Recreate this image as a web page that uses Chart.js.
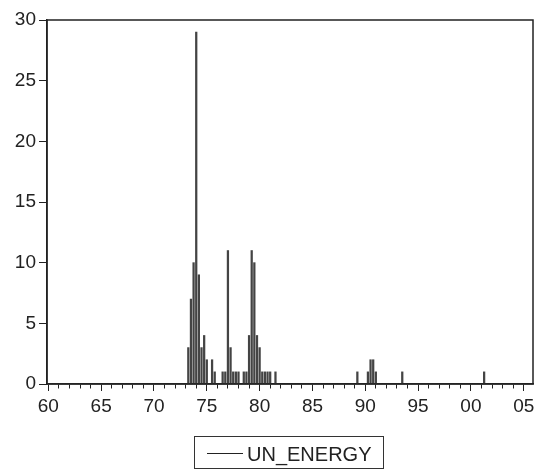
<!DOCTYPE html>
<html>
<head>
<meta charset="utf-8">
<title>UN_ENERGY</title>
<script src="https://cdn.jsdelivr.net/npm/chart.js@4"></script>
<style>
  html, body { margin: 0; padding: 0; background: #fff; }
  #wrap { position: relative; width: 539px; height: 470px; }
  #legend {
    position: absolute; left: 194px; top: 436px; width: 190px; height: 33px;
    box-sizing: border-box; border: 1px solid #333;
    font-family: "Liberation Sans", Arial, sans-serif; font-size: 20px; line-height: 20px; color: #222;
  }
  #legend .line { position: absolute; left: 12px; top: 16px; width: 36px; height: 1px; background: #222; }
  #legend .txt { position: absolute; left: 52px; top: 7px; white-space: nowrap; }
</style>
</head>
<body>
<div id="wrap">
  <canvas id="chart" width="539" height="470"></canvas>
  <div id="legend"><span class="line"></span><span class="txt" id="legendText"></span></div>
</div>
<script>
const seriesName = "UN_ENERGY";

const years = [
  1960, 1961, 1962, 1963, 1964, 1965, 1966, 1967, 1968, 1969,
  1970, 1971, 1972, 1973, 1974, 1975, 1976, 1977, 1978, 1979,
  1980, 1981, 1982, 1983, 1984, 1985, 1986, 1987, 1988, 1989,
  1990, 1991, 1992, 1993, 1994, 1995, 1996, 1997, 1998, 1999,
  2000, 2001, 2002, 2003, 2004, 2005
];

// quarterly values, one year (Q1..Q4) per group
const unEnergy = [
  0,0,0,0,  0,0,0,0,  0,0,0,0,  0,0,0,0,  0,0,0,0,   // 1960-64
  0,0,0,0,  0,0,0,0,  0,0,0,0,  0,0,0,0,  0,0,0,0,   // 1965-69
  0,0,0,0,  0,0,0,0,  0,0,0,0,  0,3,7,10, 29,9,3,4,  // 1970-74
  2,0,2,1,  0,0,1,1,  11,3,1,1, 1,0,1,1,  4,11,10,4, // 1975-79
  3,1,1,1,  1,0,1,0,  0,0,0,0,  0,0,0,0,  0,0,0,0,   // 1980-84
  0,0,0,0,  0,0,0,0,  0,0,0,0,  0,0,0,0,  0,1,0,0,   // 1985-89
  0,1,2,2,  1,0,0,0,  0,0,0,0,  0,0,1,0,  0,0,0,0,   // 1990-94
  0,0,0,0,  0,0,0,0,  0,0,0,0,  0,0,0,0,  0,0,0,0,   // 1995-99
  0,0,0,0,  0,1,0,0,  0,0,0,0,  0,0,0,0,  0,0,0,0,   // 2000-04
  0,0,0,0                                            // 2005
];

const xTickLabels = ["60", "65", "70", "75", "80", "85", "90", "95", "00", "05"];
const yTicks = [0, 5, 10, 15, 20, 25, 30];

const quarters = [];
years.forEach(y => { for (let q = 1; q <= 4; q++) quarters.push(y + "Q" + q); });

const font = { family: "'Liberation Sans', Arial, sans-serif", size: 19 };
const ink = "#222";

// box around the plot area
const frame = {
  id: "frame",
  afterDraw(chart) {
    const a = chart.chartArea, ctx = chart.ctx;
    ctx.save();
    ctx.strokeStyle = ink;
    ctx.lineWidth = 1.5;
    ctx.strokeRect(a.left, a.top, a.right - a.left, a.bottom - a.top);
    ctx.restore();
  }
};

document.getElementById("legendText").textContent = seriesName;

new Chart(document.getElementById("chart"), {
  type: "bar",
  data: {
    labels: quarters,
    datasets: [{
      label: seriesName,
      data: unEnergy,
      backgroundColor: "#444",
      borderWidth: 0,
      barThickness: 1.6
    }]
  },
  options: {
    responsive: false,
    animation: false,
    layout: { padding: { top: 20, right: 6, left: 0, bottom: 0 } },
    plugins: {
      legend: { display: false },
      tooltip: { enabled: false }
    },
    scales: {
      x: {
        type: "category",
        offset: true,
        grid: {
          drawOnChartArea: false,
          offset: false,
          tickLength: 7,
          tickWidth: 1,
          tickColor: c => (c.index % 4 === 0 ? ink : "rgba(0,0,0,0)"),
          tickBorderDash: c => (c.index % 20 === 0 ? [] : [4, 20])
        },
        border: { display: true, color: ink, width: 1.5 },
        ticks: {
          autoSkip: false,
          maxRotation: 0,
          minRotation: 0,
          padding: 4,
          color: ink,
          font,
          callback: (v, i) => (i % 20 === 0 ? xTickLabels[i / 20] : "")
        },
        afterFit: s => { s.height = 86; }
      },
      y: {
        min: yTicks[0],
        max: yTicks[yTicks.length - 1],
        grid: { drawOnChartArea: false, tickLength: 8, tickColor: ink },
        border: { display: true, color: ink, width: 1.5 },
        ticks: { stepSize: 5, padding: 3, color: ink, font },
        afterFit: s => { s.width = 47; }
      }
    }
  },
  plugins: [frame]
});
</script>
</body>
</html>
